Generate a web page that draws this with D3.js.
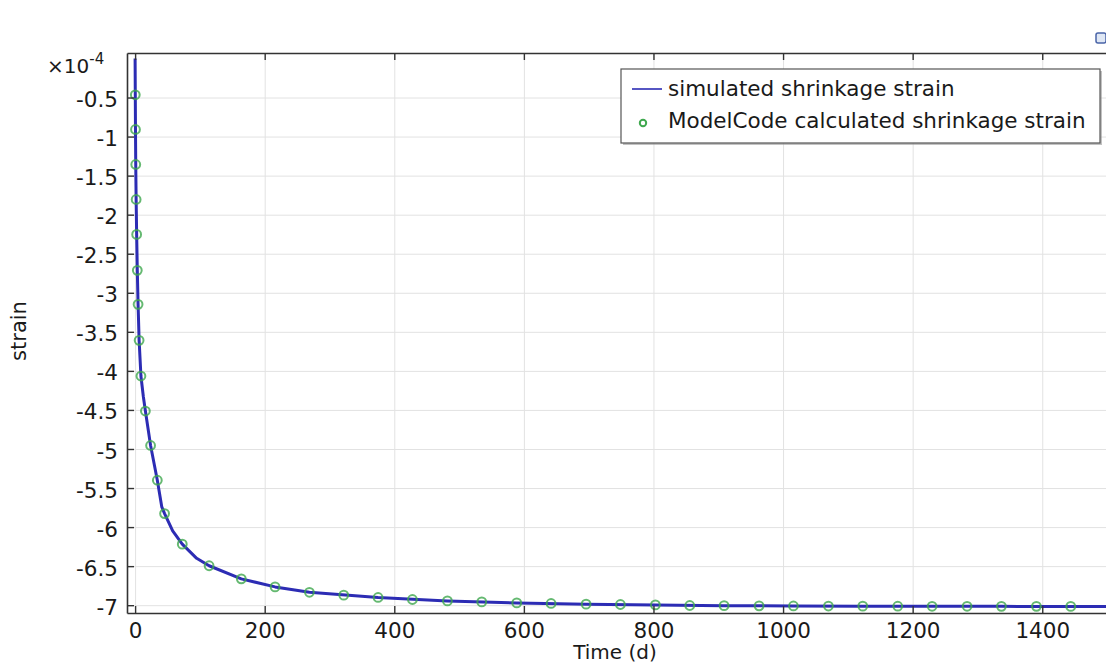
<!DOCTYPE html>
<html>
<head>
<meta charset="utf-8">
<script src="https://cdn.jsdelivr.net/npm/d3@7"></script>
<style>
  html, body { margin: 0; padding: 0; background: #fff; }
  svg { display: block; font-family: "DejaVu Sans", sans-serif; }
</style>
</head>
<body>
<svg id="chart" width="1106" height="668"></svg>
<script>
// Simulated shrinkage strain (solid line), time in days, strain in units of 1e-4
const lineTime = [0, 0.3, 0.6, 1.0, 1.6, 2.4, 3.4, 4.6, 6.2, 9.0,
  12.8, 15.9, 23.9, 34.3, 41.2, 45.5, 58, 72.8, 95, 114.2,
  163.9, 216, 269, 375, 482, 589, 696, 803, 909, 1016,
  1123, 1230, 1337, 1444, 1520];
const lineStrain = [0, -0.465, -0.909, -1.357, -1.805, -2.253, -2.713, -3.148, -3.609, -4.066,
  -4.335, -4.514, -4.955, -5.40, -5.742, -5.827, -6.05, -6.219, -6.40, -6.495,
  -6.663, -6.766, -6.835, -6.901, -6.945, -6.971, -6.987, -6.996, -7.006, -7.010,
  -7.012, -7.014, -7.015, -7.016, -7.017];

// Model Code calculated shrinkage strain (circle markers)
const markerTime = [0.3, 0.6, 1.0, 1.6, 2.4, 3.4, 4.6, 6.2, 9.0,
  15.9, 23.9, 34.3, 45.5, 72.8, 114.2, 163.9,
  216, 269, 322, 375, 428, 482, 535, 589, 642, 696, 749, 803,
  856, 909, 963, 1016, 1070, 1123, 1177, 1230, 1284, 1337, 1391, 1444];
const markerStrain = [-0.465, -0.909, -1.357, -1.805, -2.253, -2.713, -3.148, -3.609, -4.066,
  -4.514, -4.955, -5.40, -5.827, -6.219, -6.495, -6.663,
  -6.766, -6.835, -6.872, -6.901, -6.927, -6.945, -6.958, -6.971, -6.978, -6.987, -6.991, -6.996,
  -7.004, -7.006, -7.008, -7.010, -7.011, -7.012, -7.013, -7.014, -7.014, -7.015, -7.015, -7.016];

// Axis ticks
const xTicks = [0, 200, 400, 600, 800, 1000, 1200, 1400];
const xTickLabels = ["0", "200", "400", "600", "800", "1000", "1200", "1400"];
const yTicks = [-0.5, -1, -1.5, -2, -2.5, -3, -3.5, -4, -4.5, -5, -5.5, -6, -6.5, -7];
const yTickLabels = ["-0.5", "-1", "-1.5", "-2", "-2.5", "-3", "-3.5", "-4", "-4.5", "-5", "-5.5", "-6", "-6.5", "-7"];

const seriesNames = ["simulated shrinkage strain", "ModelCode calculated shrinkage strain"];

const svg = d3.select("#chart");
const plot = { left: 127, top: 53, right: 1120, bottom: 613 };

const x = d3.scaleLinear().domain([-12.5, 1520]).range([plot.left, plot.right]);
const y = d3.scaleLinear().domain([-7.1, 0.07]).range([plot.bottom, plot.top]);

const lineColor = "#2c2cb4";
const markerColor = "#3fa84e";
const textColor = "#1a1a1a";

svg.append("defs").append("clipPath").attr("id", "plot-clip")
  .append("rect")
  .attr("x", plot.left).attr("y", plot.top)
  .attr("width", plot.right - plot.left).attr("height", plot.bottom - plot.top);

// Grid
const grid = svg.append("g").attr("class", "grid");
grid.append("g")
  .attr("transform", `translate(0,${plot.bottom})`)
  .call(d3.axisBottom(x).tickValues(xTicks).tickSize(-(plot.bottom - plot.top)).tickFormat(""))
  .call(g => g.select(".domain").remove())
  .call(g => g.selectAll("line").attr("stroke", "#e2e2e2").attr("stroke-width", 1));
grid.append("g")
  .attr("transform", `translate(${plot.left},0)`)
  .call(d3.axisLeft(y).tickValues(yTicks).tickSize(-(plot.right - plot.left)).tickFormat(""))
  .call(g => g.select(".domain").remove())
  .call(g => g.selectAll("line").attr("stroke", "#e2e2e2").attr("stroke-width", 1));

// Data
const data = svg.append("g").attr("clip-path", "url(#plot-clip)");
const lineGen = d3.line()
  .x((d, i) => x(lineTime[i]))
  .y(d => y(d))
  .curve(d3.curveLinear);
data.append("path")
  .attr("d", lineGen(lineStrain))
  .attr("fill", "none")
  .attr("stroke", lineColor)
  .attr("stroke-width", 3)
  .attr("stroke-linejoin", "round");

data.selectAll("circle.mk")
  .data(markerStrain)
  .join("circle")
  .attr("class", "mk")
  .attr("cx", (d, i) => x(markerTime[i]))
  .attr("cy", d => y(d))
  .attr("r", 4.4)
  .attr("fill", "none")
  .attr("stroke", markerColor)
  .attr("stroke-opacity", 0.8)
  .attr("stroke-width", 2);

// Axes
const axisStyle = g => {
  g.selectAll(".domain").attr("stroke", "#333").attr("stroke-width", 1.6);
  g.selectAll(".tick line").attr("stroke", "#333").attr("stroke-width", 1.4);
  g.selectAll(".tick text").attr("fill", textColor).style("font-size", "21.5px")
    .style("font-family", "'DejaVu Sans', sans-serif");
};

svg.append("g")
  .attr("transform", `translate(0,${plot.bottom})`)
  .call(d3.axisBottom(x).tickValues(xTicks).tickSize(-7).tickSizeOuter(0).tickPadding(10)
    .tickFormat((d, i) => xTickLabels[i]))
  .call(axisStyle);

svg.append("g")
  .attr("transform", `translate(0,${plot.top})`)
  .call(d3.axisTop(x).tickValues(xTicks).tickSize(-7).tickSizeOuter(0).tickFormat(""))
  .call(axisStyle);

svg.append("g")
  .attr("transform", `translate(${plot.left},0)`)
  .call(d3.axisLeft(y).tickValues(yTicks).tickSize(-7).tickSizeOuter(0).tickPadding(9)
    .tickFormat((d, i) => yTickLabels[i]))
  .call(axisStyle)
  .call(g => g.selectAll(".tick text").attr("dy", "0.42em"));

// Exponent marker for the y axis
const expo = svg.append("text")
  .attr("x", 47).attr("y", 73)
  .attr("fill", textColor)
  .style("font-size", "20px");
expo.append("tspan").text("×10");
expo.append("tspan").attr("dy", -9).style("font-size", "15px").text("-4");

// Axis titles
svg.append("text")
  .attr("x", 615).attr("y", 659)
  .attr("text-anchor", "middle")
  .attr("fill", textColor)
  .style("font-size", "20px")
  .text("Time (d)");

svg.append("text")
  .attr("transform", "translate(26,331) rotate(-90)")
  .attr("text-anchor", "middle")
  .attr("fill", textColor)
  .style("font-size", "21px")
  .text("strain");

// Legend
const legend = svg.append("g").attr("transform", "translate(621,69)");
legend.append("rect")
  .attr("x", 2).attr("y", 2).attr("width", 479).attr("height", 74)
  .attr("fill", "#9a9a9a").attr("opacity", 0.6);
legend.append("rect")
  .attr("x", 0).attr("y", 0).attr("width", 479).attr("height", 74)
  .attr("fill", "#fff").attr("stroke", "#555").attr("stroke-width", 1.2);
legend.append("line")
  .attr("x1", 11).attr("x2", 41).attr("y1", 20).attr("y2", 20)
  .attr("stroke", lineColor).attr("stroke-width", 1.6);
legend.append("circle")
  .attr("cx", 22).attr("cy", 54).attr("r", 3.2)
  .attr("fill", "none").attr("stroke", markerColor).attr("stroke-width", 2);
legend.selectAll("text.lg")
  .data(seriesNames)
  .join("text")
  .attr("class", "lg")
  .attr("x", 47)
  .attr("y", (d, i) => 27 + i * 32)
  .attr("fill", textColor)
  .style("font-size", "21.5px")
  .text(d => d);

// Small toolbar glyph in the corner
svg.append("rect")
  .attr("x", 1096).attr("y", 33).attr("width", 10).attr("height", 10).attr("rx", 2)
  .attr("fill", "#dfe7f4").attr("stroke", "#4a64a8").attr("stroke-width", 1.5);
</script>
</body>
</html>
